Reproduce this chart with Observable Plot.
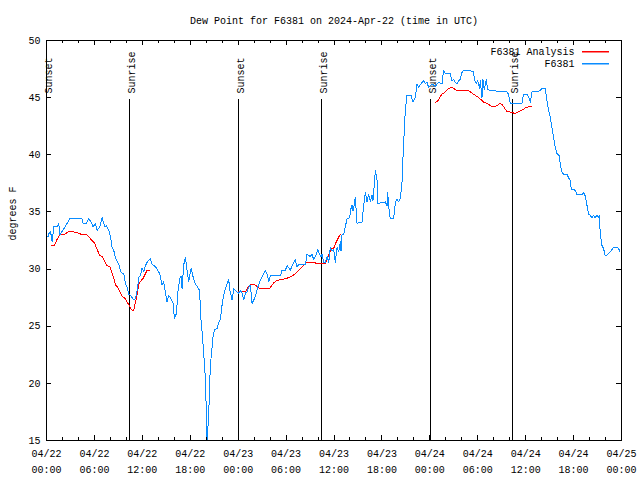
<!DOCTYPE html>
<html>
<head>
<meta charset="utf-8">
<script src="https://cdn.jsdelivr.net/npm/d3@7"></script>
<script src="https://cdn.jsdelivr.net/npm/@observablehq/plot@0.6"></script>
<style>
  html, body { margin: 0; padding: 0; background: #ffffff; }
  svg { display: block; }
</style>
</head>
<body>
<div id="chart"></div>
<script>
// ---------- data ----------
const chartTitle = "Dew Point for F6381 on 2024-Apr-22 (time in UTC)";
const yAxisLabel = "degrees F";
const startDate = "2024-04-22T00:00:00Z";
const spanHours = 72;
const seriesNames = ["F6381 Analysis", "F6381"];
const seriesColors = ["#ff0000", "#0a8cff"];

const yTicks = [15, 20, 25, 30, 35, 40, 45, 50];
const majorTickHours = [0, 6, 12, 18, 24, 30, 36, 42, 48, 54, 60, 66, 72];
const minorTickHours = [2, 4, 8, 10, 14, 16, 20, 22, 26, 28, 32, 34, 38, 40, 44, 46, 50, 52, 56, 58, 62, 64, 68, 70];

const sunHours = [0.02, 10.43, 24.07, 34.47, 48.08, 58.37];
const sunLabels = ["Sunset", "Sunrise", "Sunset", "Sunrise", "Sunset", "Sunrise"];

// F6381 observations (hours after 04/22 00:00 UTC, dew point °F)
const f6381Hours = [
  0.17, 0.29, 0.50, 0.71, 0.92, 1.33, 1.54, 1.67, 1.96, 2.59, 2.92, 4.46, 4.59, 5.01, 5.30, 5.59, 5.84, 6.13, 6.34, 6.67,
  6.97, 7.30, 7.51, 7.80, 8.01, 8.22, 8.43, 8.64, 8.84, 9.05, 9.34, 9.68, 9.89, 10.10, 10.30, 10.51, 10.72, 10.93, 11.14, 11.35,
  11.56, 11.76, 11.97, 12.18, 12.39, 12.68, 13.02, 13.22, 13.52, 13.85, 14.18, 14.48, 14.68, 14.89, 15.10, 15.31, 15.60, 15.85, 16.02, 16.27,
  16.44, 16.69, 16.85, 16.98, 17.19, 17.40, 17.61, 17.81, 18.11, 18.36, 18.65, 18.94, 19.19, 19.27, 19.48, 19.69, 19.90, 20.11, 20.32, 20.44,
  20.61, 20.86, 21.03, 21.36, 21.57, 21.78, 21.99, 22.19, 22.40, 22.61, 22.82, 22.94, 23.03, 23.24, 23.45, 23.65, 23.86, 24.07, 24.28, 24.49,
  24.70, 24.91, 25.11, 25.32, 25.53, 25.74, 26.03, 26.28, 26.45, 26.70, 26.99, 27.20, 27.41, 27.70, 27.83, 28.04, 29.29, 29.50, 29.91, 30.12,
  30.54, 30.75, 31.16, 31.37, 31.58, 32.42, 32.62, 33.04, 33.25, 33.46, 33.67, 33.96, 34.21, 34.38, 34.50, 34.71, 34.92, 35.13, 35.34, 35.54,
  35.75, 35.96, 36.17, 36.38, 36.59, 36.80, 36.88, 37.00, 37.21, 37.42, 37.63, 37.96, 38.13, 38.25, 38.38, 38.55, 38.67, 38.88, 39.22, 39.51,
  39.72, 39.92, 40.13, 40.34, 40.55, 40.76, 40.88, 41.18, 41.39, 41.47, 41.80, 42.22, 42.43, 42.64, 42.72, 42.85, 43.05, 43.47, 43.68, 43.89,
  44.10, 44.31, 44.51, 44.65, 44.80, 44.93, 45.14, 45.64, 45.89, 46.18, 46.39, 46.60, 46.89, 47.23, 47.43, 47.64, 47.85, 48.27, 48.69, 49.10,
  49.52, 49.73, 49.94, 50.56, 50.77, 50.98, 51.19, 51.40, 51.61, 51.81, 52.02, 52.23, 53.48, 53.57, 53.82, 53.98, 54.23, 54.32, 54.53, 54.65,
  54.82, 55.07, 55.24, 55.78, 56.20, 56.82, 57.66, 57.86, 58.07, 59.53, 59.74, 60.16, 60.37, 60.58, 60.78, 61.41, 61.83, 62.04, 62.45, 62.66,
  62.87, 63.08, 63.29, 63.50, 63.70, 63.91, 64.25, 64.33, 64.54, 64.75, 65.17, 65.37, 65.58, 65.71, 66.21, 66.42, 67.04, 67.25, 67.46, 67.67,
  67.88, 68.09, 68.29, 68.50, 68.71, 68.92, 69.13, 69.25, 69.33, 69.54, 69.75, 69.96, 70.17, 70.38, 70.59, 71.00, 71.42, 71.63, 71.83
];
const f6381Dew = [
  32.8, 33.1, 33.3, 32.4, 33.7, 33.7, 34.0, 33.0, 33.3, 34.0, 34.4, 34.4, 34.0, 34.0, 34.4, 34.1, 33.7, 34.0, 33.4, 33.7,
  34.5, 33.7, 33.8, 33.4, 32.8, 31.9, 31.6, 31.0, 30.7, 30.4, 29.7, 29.6, 28.7, 28.4, 27.8, 27.7, 27.5, 27.3, 27.4, 28.1,
  29.3, 29.4, 30.1, 29.8, 30.3, 30.7, 30.9, 30.4, 30.3, 30.0, 29.6, 28.6, 28.9, 27.9, 27.1, 27.7, 27.4, 27.0, 25.7, 26.1,
  27.9, 29.2, 29.4, 28.3, 30.4, 31.0, 29.8, 28.9, 30.1, 29.3, 28.7, 28.4, 28.1, 26.1, 24.5, 22.6, 20.3, 15.0, 17.4, 20.3,
  22.3, 24.1, 24.7, 24.8, 25.3, 25.6, 26.9, 27.7, 28.3, 28.7, 29.1, 28.1, 28.0, 27.3, 28.3, 28.1, 28.0, 27.9, 28.1, 27.9,
  27.3, 27.9, 28.0, 28.4, 28.6, 27.0, 27.4, 27.9, 28.4, 28.9, 29.3, 29.6, 29.9, 29.4, 28.9, 29.4, 29.4, 29.9, 29.9, 30.3,
  29.9, 30.3, 30.8, 30.2, 30.4, 30.4, 31.3, 31.1, 31.3, 30.8, 31.1, 31.7, 31.3, 31.1, 31.3, 30.6, 30.6, 31.1, 30.6, 31.9,
  31.6, 31.7, 30.6, 31.9, 31.5, 32.4, 31.6, 33.0, 33.0, 33.7, 34.4, 34.5, 35.3, 35.6, 35.1, 35.7, 36.3, 34.0, 34.1, 34.1,
  35.6, 36.7, 35.9, 36.5, 35.9, 36.5, 36.0, 38.6, 37.8, 35.7, 35.8, 35.8, 35.9, 35.5, 36.7, 35.5, 34.4, 34.4, 35.8, 36.1,
  35.9, 36.2, 37.5, 40.0, 42.1, 43.9, 45.2, 45.2, 44.6, 45.0, 46.2, 45.9, 46.2, 46.5, 46.2, 46.35, 45.9, 46.2, 46.0, 46.35,
  46.2, 47.4, 47.1, 47.1, 46.5, 46.6, 46.35, 46.2, 46.5, 46.6, 47.2, 47.4, 47.3, 46.6, 46.2, 46.5, 45.8, 46.5, 45.0, 46.6,
  45.7, 46.6, 45.7, 45.6, 45.6, 45.5, 45.5, 45.3, 44.5, 44.5, 45.3, 45.3, 45.1, 44.6, 45.5, 45.5, 45.65, 45.8, 45.8, 44.75,
  43.9, 43.3, 42.4, 41.5, 40.7, 40.1, 39.9, 39.1, 38.5, 38.3, 38.3, 38.0, 37.75, 37.0, 36.9, 36.5, 36.5, 36.7, 36.4, 35.6,
  34.8, 34.7, 34.5, 34.7, 34.5, 34.7, 34.5, 34.7, 33.1, 32.1, 31.8, 31.2, 31.2, 31.4, 31.5, 31.9, 31.9, 31.8, 31.5
];

// F6381 Analysis (null = gap between analysis segments)
const analysisHours = [
  0.58, 1.00, 1.33, 1.67, 2.17, 2.59, 2.92, 3.84, 4.46, 5.01, 5.30, 5.72, 6.01, 6.34, 6.67, 6.97, 7.26, 7.59, 7.93, 8.22,
  8.43, 8.64, 8.93, 9.18, 9.47, 9.76, 10.01, 10.30, 10.51, 10.72, 10.93, 11.14, 11.35, 11.56, 11.76, 12.10, 12.39, 12.60, 12.93,
  18.00,
  24.07, 24.49, 24.91, 25.32, 25.74, 26.16, 26.70, 27.95, 28.45, 28.87, 29.50, 30.12, 30.75, 31.16, 31.58, 32.00, 32.42, 32.62, 33.25, 33.88,
  34.92, 35.13, 35.34, 35.54, 35.75, 35.96, 36.17, 36.38, 36.59, 36.80,
  42.00,
  48.69, 48.98, 49.23, 49.52, 49.94, 50.35, 50.77, 51.19, 51.61, 52.86, 53.28, 53.69, 54.11, 54.53, 54.74, 55.15, 55.57, 55.99, 56.41, 56.82,
  57.03, 57.45, 57.66, 58.28, 58.70, 59.12, 59.53, 59.95, 60.37, 60.78
];
const analysisDew = [
  32.1, 32.1, 32.6, 33.0, 33.0, 33.2, 33.3, 33.2, 33.0, 33.0, 32.8, 32.5, 32.3, 31.7, 31.2, 31.1, 30.7, 30.3, 30.2, 29.6,
  29.2, 28.6, 28.4, 28.0, 27.6, 27.5, 27.2, 26.9, 26.6, 26.4, 26.4, 27.1, 27.8, 28.7, 28.9, 29.2, 29.6, 29.9, 29.9,
  null,
  28.0, 28.0, 28.0, 28.5, 28.7, 28.6, 28.3, 28.3, 28.8, 29.0, 29.1, 29.2, 29.4, 29.6, 29.9, 30.2, 30.5, 30.6, 30.6, 30.5,
  30.5, 30.9, 31.2, 31.6, 31.8, 31.8, 32.2, 32.5, 32.8, 33.0,
  null,
  44.6, 44.7, 45.0, 45.3, 45.5, 45.8, 45.9, 45.7, 45.6, 45.6, 45.4, 45.2, 45.0, 44.75, 44.6, 44.5, 44.3, 44.2, 44.3, 44.5,
  44.4, 44.0, 43.8, 43.7, 43.6, 43.8, 43.9, 44.1, 44.2, 44.2
];

// ---------- chart ----------
const base = Date.parse(startDate);
const toDate = h => new Date(base + h * 3600e3);
const obs = f6381Hours.map((h, i) => ({t: toDate(h), v: f6381Dew[i]}));
const ana = analysisHours.map((h, i) => ({t: toDate(h), v: analysisDew[i] == null ? NaN : analysisDew[i]}));
const tickFmt = d3.utcFormat("%m/%d\n%H:%M");

const W = 640, H = 480, mT = 40, mB = 40, mL = 46, mR = 19;
const frameW = W - mL - mR, frameH = H - mT - mB;
const majorLen = 5, minorLen = 3, yTickLen = 5;
const crisp = {shapeRendering: "crispEdges"};

const chart = Plot.plot({
  width: W, height: H,
  marginTop: mT, marginBottom: mB, marginLeft: mL, marginRight: mR,
  style: {fontFamily: "'Liberation Mono', 'DejaVu Sans Mono', monospace", fontSize: "10px", background: "#ffffff", color: "#000000"},
  x: {type: "utc", domain: [toDate(0), toDate(spanHours)]},
  y: {domain: [yTicks[0], yTicks[yTicks.length - 1]]},
  marks: [
    // sunrise / sunset markers
    Plot.ruleX(sunHours, {x: d => toDate(d), insetTop: 59, stroke: "#000000", strokeWidth: 1, ...crisp}),
    Plot.text(sunHours, {x: d => toDate(d), text: (d, i) => sunLabels[i], rotate: -90, textAnchor: "start",
      lineAnchor: "middle", frameAnchor: "top", dy: 53, dx: 2, fill: "#000000"}),
    // data
    Plot.line(ana, {x: "t", y: "v", stroke: seriesColors[0], strokeWidth: 1, clip: true, ...crisp}),
    Plot.line(obs, {x: "t", y: "v", stroke: seriesColors[1], strokeWidth: 1, clip: true, ...crisp}),
    // frame and inward ticks
    Plot.frame({stroke: "#000000", strokeWidth: 1, ...crisp}),
    Plot.tickX(majorTickHours, {x: d => toDate(d), insetTop: frameH - majorLen, stroke: "#000000", ...crisp}),
    Plot.tickX(majorTickHours, {x: d => toDate(d), insetBottom: frameH - majorLen, stroke: "#000000", ...crisp}),
    Plot.tickX(minorTickHours, {x: d => toDate(d), insetTop: frameH - minorLen, stroke: "#000000", ...crisp}),
    Plot.tickX(minorTickHours, {x: d => toDate(d), insetBottom: frameH - minorLen, stroke: "#000000", ...crisp}),
    Plot.tickY(yTicks, {y: d => d, insetRight: frameW - yTickLen, stroke: "#000000", ...crisp}),
    Plot.tickY(yTicks, {y: d => d, insetLeft: frameW - yTickLen, stroke: "#000000", ...crisp}),
    // axes labels
    Plot.axisX({ticks: majorTickHours.map(toDate), tickSize: 0, tickPadding: 5, tickFormat: tickFmt, lineHeight: 1.6, label: null}),
    Plot.axisY({ticks: yTicks, tickSize: 0, tickPadding: 6, label: null}),
    // title and y label
    Plot.text([chartTitle], {text: d => d, frameAnchor: "top", lineAnchor: "middle", dy: -20, fill: "#000000"}),
    Plot.text([yAxisLabel], {text: d => d, frameAnchor: "left", lineAnchor: "middle", dx: -34, rotate: -90, fill: "#000000"}),
    // legend text
    Plot.text([seriesNames[0]], {text: d => d, frameAnchor: "top-right", textAnchor: "end", lineAnchor: "middle", dx: -47, dy: 11, fill: "#000000"}),
    Plot.text([seriesNames[1]], {text: d => d, frameAnchor: "top-right", textAnchor: "end", lineAnchor: "middle", dx: -47, dy: 23, fill: "#000000"})
  ]
});

// legend sample lines (thin filled rectangles for crisp colour)
const svg = d3.select(chart);
const lx1 = W - mR - 39, lx2 = W - mR - 12;
seriesColors.forEach((c, i) => {
  const ly = mT + 11 + 12 * i;
  svg.append("rect").attr("x", lx1).attr("y", ly).attr("width", lx2 - lx1).attr("height", 1.5)
    .attr("fill", c).attr("stroke", "none");
});
document.getElementById("chart").appendChild(chart);
</script>
</body>
</html>
